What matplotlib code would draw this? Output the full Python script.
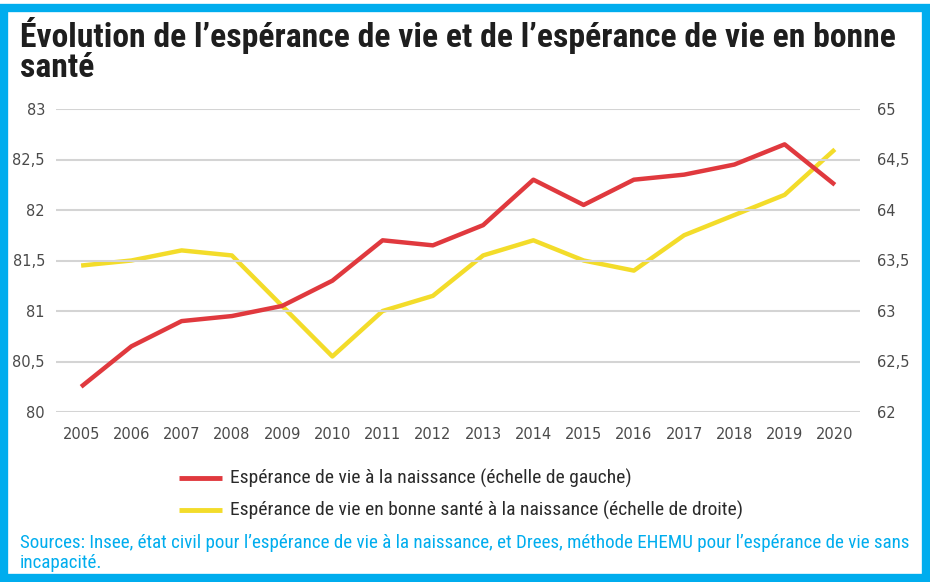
import matplotlib
matplotlib.use("Agg")
import matplotlib.pyplot as plt
from matplotlib.patches import Rectangle
from matplotlib.lines import Line2D
from matplotlib import font_manager

years = [2005, 2006, 2007, 2008, 2009, 2010, 2011, 2012, 2013, 2014, 2015, 2016, 2017, 2018, 2019, 2020]
esperance_vie = [80.25, 80.65, 80.9, 80.95, 81.05, 81.3, 81.7, 81.65, 81.85, 82.3, 82.05, 82.3, 82.35, 82.45, 82.65, 82.25]
esperance_bonne_sante = [63.45, 63.5, 63.6, 63.55, 63.05, 62.55, 63.0, 63.15, 63.55, 63.7, 63.5, 63.4, 63.75, 63.95, 64.15, 64.6]
left_ticks = [80, 80.5, 81, 81.5, 82, 82.5, 83]
right_ticks = [62, 62.5, 63, 63.5, 64, 64.5, 65]

title_l1 = "Évolution de l’espérance de vie et de l’espérance de vie en bonne"
title_l2 = "santé"
label_red = "Espérance de vie à la naissance (échelle de gauche)"
label_yellow = "Espérance de vie en bonne santé à la naissance (échelle de droite)"
source_l1 = "Sources: Insee, état civil pour l’espérance de vie à la naissance, et Drees, méthode EHEMU pour l’espérance de vie sans"
source_l2 = "incapacité."

RED = "#e0393e"
YEL = "#f3dc2a"
BLUE = "#00adee"
GRID = "#d4d4d4"
TXT = "#4a4a4a"

available = {f.name for f in font_manager.fontManager.ttflist}
narrow = None
for cand in ['Roboto Condensed', 'Open Sans Condensed', 'Liberation Sans Narrow', 'Noto Sans Condensed',
             'Roboto', 'Liberation Sans', 'Lato', 'DejaVu Sans']:
    if cand in available:
        narrow = cand
        break
FAM = [narrow, 'DejaVu Sans']
plt.rcParams['font.family'] = ['DejaVu Sans']

W, H = 930, 582
fig = plt.figure(figsize=(W / 100, H / 100), dpi=100)
renderer = fig.canvas.get_renderer()

def fx(px):
    return px / W

def fy(py):
    return 1 - py / H

def fit(t, target_w):
    for _ in range(3):
        w = t.get_window_extent(renderer).width
        t.set_fontsize(t.get_fontsize() * target_w / w)

# border
fig.patches.append(Rectangle((fx(4), fy(578)), fx(922), 570 / H, transform=fig.transFigure,
                             fill=False, edgecolor=BLUE, linewidth=6, zorder=10))

t1 = fig.text(fx(20), fy(36), title_l1, ha='left', va='center', fontsize=19, fontweight='bold',
              color='#1e1e1e', family=FAM)
fit(t1, 873)
t2 = fig.text(fx(20), fy(68), title_l2, ha='left', va='center', fontsize=t1.get_fontsize(),
              fontweight='bold', color='#1e1e1e', family=FAM)

ax = fig.add_axes([fx(56), fy(412), fx(860 - 56), (412 - 109) / H])
ax2 = ax.twinx()

fmt = lambda v: (f"{v:g}").replace('.', ',')

ax.set_ylim(80, 83)
ax2.set_ylim(62, 65)
ax.set_xlim(2004.5, 2020.5)
ax.set_yticks(left_ticks)
ax.set_yticklabels([fmt(v) for v in left_ticks])
ax2.set_yticks(right_ticks)
ax2.set_yticklabels([fmt(v) for v in right_ticks])
ax.set_xticks(years)
ax.set_xticklabels([str(y) for y in years])

for a in (ax, ax2):
    for s in a.spines.values():
        s.set_visible(False)
    a.tick_params(length=0, labelcolor=TXT, labelsize=10.5)
ax.tick_params(axis='y', pad=8)
ax2.tick_params(axis='y', pad=12)
ax.tick_params(axis='x', pad=11)

ax.grid(axis='y', color=GRID, linewidth=1.5)
ax.set_axisbelow(True)

ax2.plot(years, esperance_bonne_sante, color=YEL, linewidth=3.2, solid_capstyle='butt', zorder=3)
ax.plot(years, esperance_vie, color=RED, linewidth=3.2, solid_capstyle='butt', zorder=4)
ax.set_zorder(ax2.get_zorder() + 1)
ax.patch.set_visible(False)

# legend (manual, figure coords)
leg_rows = [(RED, label_red, 478), (YEL, label_yellow, 510)]
leg_texts = []
for col, lab, py in leg_rows:
    fig.add_artist(Line2D([fx(179), fx(222)], [fy(py), fy(py)], transform=fig.transFigure,
                          color=col, linewidth=3.5, solid_capstyle='butt'))
    leg_texts.append(fig.text(fx(230), fy(py), lab, ha='left', va='center', fontsize=12,
                              color='#2a2a2a', family=FAM))
fit(leg_texts[1], 512)
leg_texts[0].set_fontsize(leg_texts[1].get_fontsize())

s1 = fig.text(fx(20), fy(543), source_l1, ha='left', va='center', fontsize=11.2, color=BLUE, family=FAM)
fit(s1, 892)
s2 = fig.text(fx(20), fy(563), source_l2, ha='left', va='center', fontsize=s1.get_fontsize(),
              color=BLUE, family=FAM)

fig.savefig("out.png", dpi=100, facecolor='white')
